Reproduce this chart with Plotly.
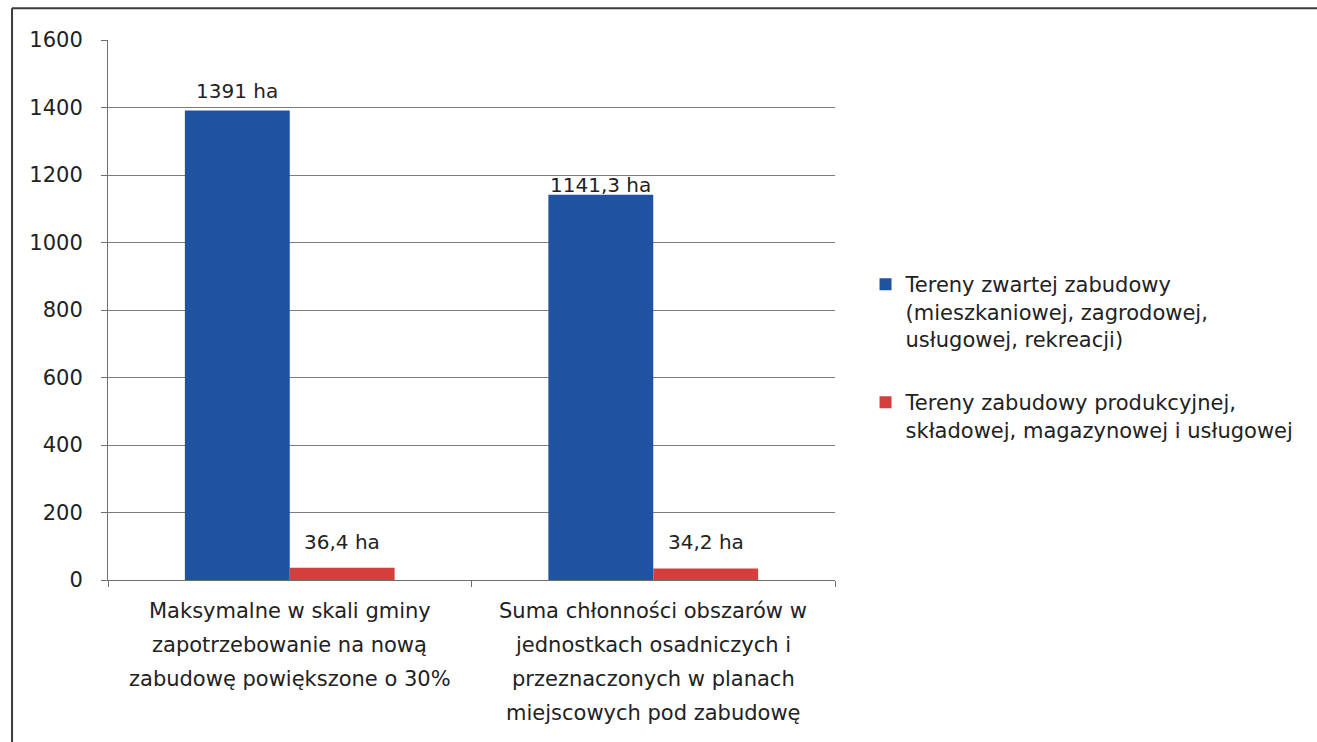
import plotly.graph_objects as go

# Category labels, one list of lines per group
category_lines = [
    ["Maksymalne w skali gminy",
     "zapotrzebowanie na nową",
     "zabudowę powiększone o 30%"],
    ["Suma chłonności obszarów w",
     "jednostkach osadniczych i",
     "przeznaczonych w planach",
     "miejscowych pod zabudowę"],
]
series_names = [
    "Tereny zwartej zabudowy<br>(mieszkaniowej, zagrodowej,<br>usługowej, rekreacji)",
    "Tereny zabudowy produkcyjnej,<br>składowej, magazynowej i usługowej",
]
compact_values = [1391, 1141.3]
production_values = [36.4, 34.2]
y_ticks = [0, 200, 400, 600, 800, 1000, 1200, 1400, 1600]

BLUE = "#1f52a1"
RED = "#d43f3e"
FONT = "DejaVu Sans"
TEXT = "#222222"
FS = 21

x_pos = list(range(len(category_lines)))
bar_w = 0.2885


def fmt(v):
    s = f"{v:g}".replace(".", ",")
    return f"{s} ha"


fig = go.Figure()
fig.add_trace(go.Bar(
    x=x_pos, y=compact_values, name=series_names[0], legendgroup="g1",
    width=bar_w, offset=-bar_w, marker=dict(color=BLUE, line=dict(width=0)),
))
fig.add_trace(go.Bar(
    x=x_pos, y=production_values, name=series_names[1], legendgroup="g2",
    width=bar_w, offset=0, marker=dict(color=RED, line=dict(width=0)),
))

annotations = []
# value labels above each bar
label_shift = [[20, 10], [26, 26]]
for s, (vals, dx) in enumerate([(compact_values, -bar_w / 2), (production_values, bar_w / 2)]):
    for i, v in enumerate(vals):
        annotations.append(dict(
            x=x_pos[i] + dx, y=v, xref="x", yref="y", text=fmt(v),
            showarrow=False, yanchor="middle", yshift=label_shift[s][i],
            font=dict(family=FONT, size=FS - 1, color=TEXT),
        ))

# category labels below the axis
for i, lines in enumerate(category_lines):
    for k, line in enumerate(lines):
        annotations.append(dict(
            x=x_pos[i], y=0, xref="x", yref="paper", text=line,
            showarrow=False, yanchor="middle", yshift=-(31 + 34 * k),
            font=dict(family=FONT, size=FS, color=TEXT),
        ))

fig.update_layout(
    width=1317, height=742,
    margin=dict(l=108, r=482, t=40, b=162),
    paper_bgcolor="white", plot_bgcolor="white",
    barmode="overlay",
    font=dict(family=FONT, size=FS, color=TEXT),
    showlegend=True,
    legend=dict(
        x=1.042, y=0.585, xanchor="left", yanchor="top",
        font=dict(family=FONT, size=FS, color=TEXT),
        valign="top", tracegroupgap=33, itemwidth=30,
        bgcolor="rgba(0,0,0,0)",
    ),
    annotations=annotations,
    xaxis=dict(
        range=[-0.5, 1.5], tickvals=[-0.5, 0.5, 1.5], ticktext=["", "", ""],
        ticks="outside", ticklen=6, tickcolor="#6f6f6f",
        showline=True, linecolor="#6f6f6f", linewidth=1,
        showgrid=False, zeroline=False, fixedrange=True,
    ),
    yaxis=dict(
        range=[0, 1600], tickvals=y_ticks,
        ticks="outside", ticklen=6, tickcolor="#6f6f6f",
        showline=True, linecolor="#6f6f6f", linewidth=1,
        showgrid=True, gridcolor="#7d7d7d", gridwidth=1,
        zeroline=False, ticklabelstandoff=14,
        tickfont=dict(family=FONT, size=FS, color=TEXT),
    ),
    shapes=[
        # outer frame: top and left edges
        dict(type="line", xref="paper", yref="paper",
             x0=-0.132, x1=1.67, y0=1.059, y1=1.059,
             line=dict(color="#3a3a3a", width=2)),
        dict(type="line", xref="paper", yref="paper",
             x0=-0.132, x1=-0.132, y0=1.059, y1=-0.31,
             line=dict(color="#3a3a3a", width=2)),
    ],
)

fig.write_html("out.html")
